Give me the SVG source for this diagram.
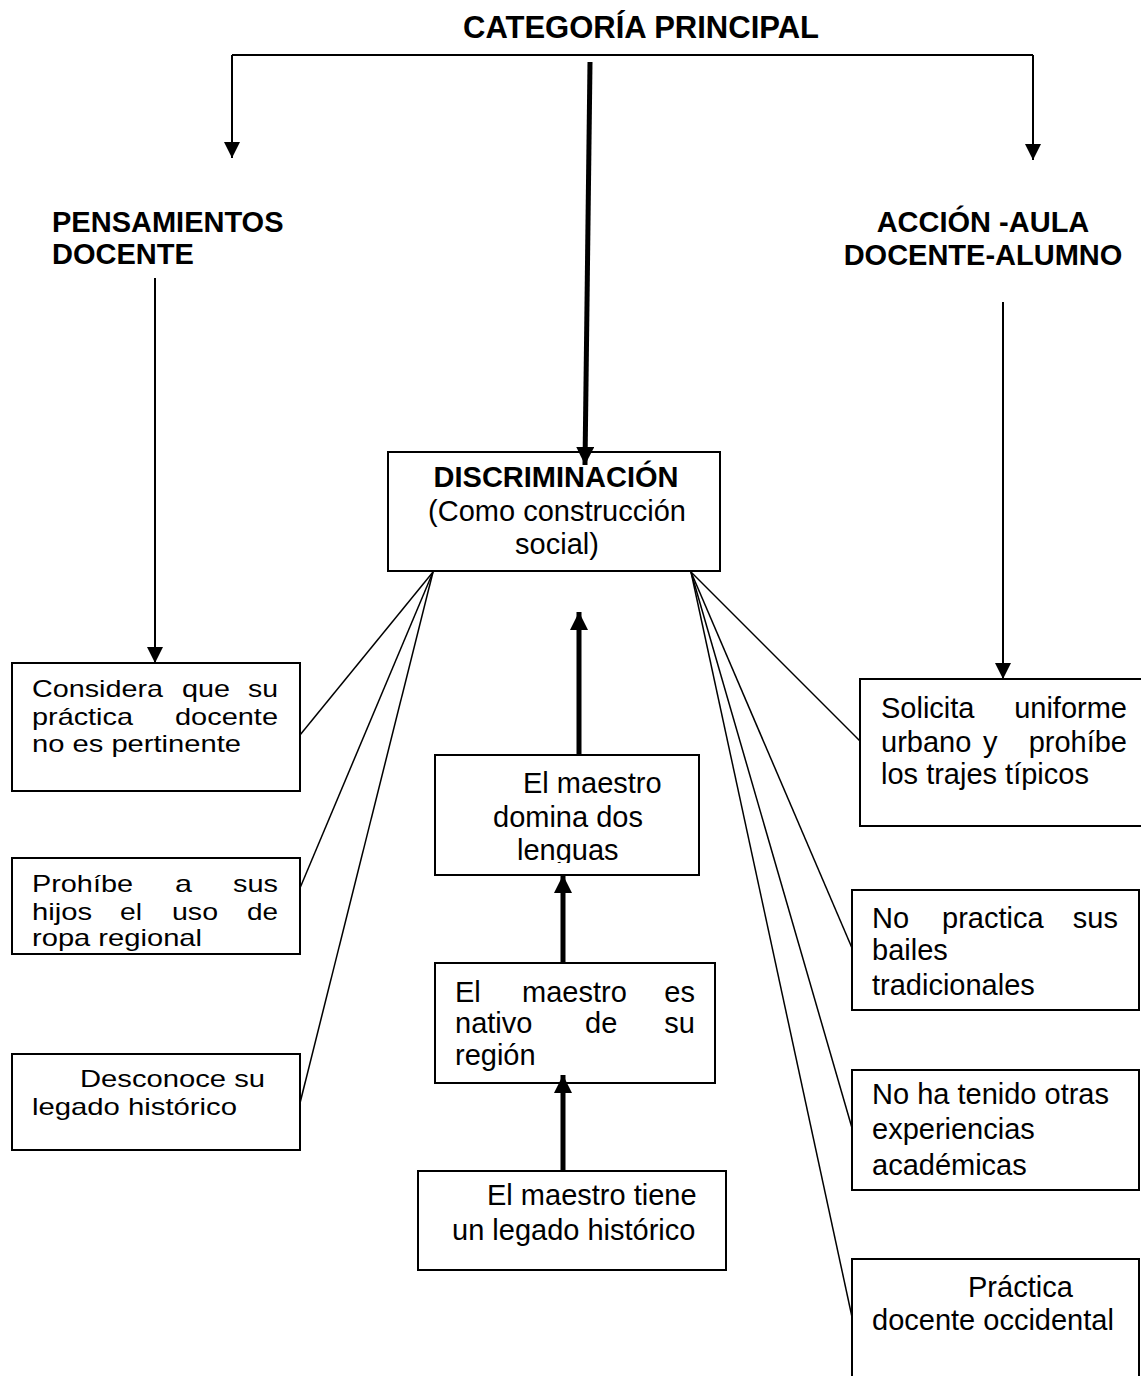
<svg xmlns="http://www.w3.org/2000/svg" width="1141" height="1376" viewBox="0 0 1141 1376">
<style>
  .box{fill:none;stroke:#000;stroke-width:2}
  .t{font-family:"Liberation Sans",Arial,sans-serif;font-size:29px;fill:#000}
  .b{font-family:"Liberation Sans",Arial,sans-serif;font-size:29px;font-weight:bold;fill:#000}
  .s{font-family:"Liberation Sans",Arial,sans-serif;font-size:24px;fill:#000}
  .thin{stroke:#000;stroke-width:2;fill:none}
  .fan{stroke:#000;stroke-width:1.5;fill:none}
  .thick{stroke:#000;stroke-width:5;fill:none}
</style>
<defs>
  <marker id="ah" markerUnits="userSpaceOnUse" markerWidth="16" markerHeight="18" refX="16" refY="8" orient="auto" viewBox="0 0 16 16">
    <path d="M0,0 L16,8 L0,16 Z" fill="#000"/>
  </marker>
  <marker id="ahk" markerUnits="userSpaceOnUse" markerWidth="18" markerHeight="18" refX="18" refY="9" orient="auto" viewBox="0 0 18 18">
    <path d="M0,0 L18,9 L0,18 Z" fill="#000"/>
  </marker>
  <clipPath id="c1"><rect x="436" y="756" width="262" height="107"/></clipPath>
  <clipPath id="c2"><rect x="436" y="964" width="278" height="107"/></clipPath>
</defs>
<rect width="1141" height="1376" fill="#fff"/>

<g id="title">
  <text class="b" x="641" y="38" text-anchor="middle" style="font-size:31px">CATEGORÍA PRINCIPAL</text>
</g>

<g id="pensamientos">
  <text class="b" x="52" y="232">PENSAMIENTOS</text>
  <text class="b" x="52" y="264">DOCENTE</text>
</g>

<g id="accion">
  <text class="b" x="983" y="232" text-anchor="middle">ACCIÓN -AULA</text>
  <text class="b" x="983" y="265" text-anchor="middle">DOCENTE-ALUMNO</text>
</g>

<g id="discriminacion">
  <rect class="box" x="388" y="452" width="332" height="119"/>
  <text class="b" x="556" y="487" text-anchor="middle">DISCRIMINACIÓN</text>
  <text class="t" x="557" y="521" text-anchor="middle">(Como construcción</text>
  <text class="t" x="557" y="554" text-anchor="middle">social)</text>
</g>

<g id="considera">
  <rect class="box" x="12" y="663" width="288" height="128"/>
  <text class="s" x="32" y="697" textLength="131" lengthAdjust="spacingAndGlyphs">Considera</text>
  <text class="s" x="182" y="697" textLength="48" lengthAdjust="spacingAndGlyphs">que</text>
  <text class="s" x="248" y="697" textLength="30" lengthAdjust="spacingAndGlyphs">su</text>
  <text class="s" x="32" y="725" textLength="101" lengthAdjust="spacingAndGlyphs">práctica</text>
  <text class="s" x="175" y="725" textLength="103" lengthAdjust="spacingAndGlyphs">docente</text>
  <text class="s" x="32" y="752" textLength="209" lengthAdjust="spacingAndGlyphs">no es pertinente</text>
</g>

<g id="prohibe">
  <rect class="box" x="12" y="858" width="288" height="96"/>
  <text class="s" x="32" y="892" textLength="101" lengthAdjust="spacingAndGlyphs">Prohíbe</text>
  <text class="s" x="175" y="892" textLength="17" lengthAdjust="spacingAndGlyphs">a</text>
  <text class="s" x="233" y="892" textLength="45" lengthAdjust="spacingAndGlyphs">sus</text>
  <text class="s" x="32" y="920" textLength="60" lengthAdjust="spacingAndGlyphs">hijos</text>
  <text class="s" x="120" y="920" textLength="22" lengthAdjust="spacingAndGlyphs">el</text>
  <text class="s" x="172" y="920" textLength="46" lengthAdjust="spacingAndGlyphs">uso</text>
  <text class="s" x="247" y="920" textLength="31" lengthAdjust="spacingAndGlyphs">de</text>
  <text class="s" x="32" y="946" textLength="170" lengthAdjust="spacingAndGlyphs">ropa regional</text>
</g>

<g id="desconoce">
  <rect class="box" x="12" y="1054" width="288" height="96"/>
  <text class="s" x="80" y="1087" textLength="185" lengthAdjust="spacingAndGlyphs">Desconoce su</text>
  <text class="s" x="32" y="1115" textLength="205" lengthAdjust="spacingAndGlyphs">legado histórico</text>
</g>

<g id="domina">
  <rect class="box" x="435" y="755" width="264" height="120"/>
  <g clip-path="url(#c1)">
    <text class="t" x="523" y="793">El maestro</text>
    <text class="t" x="493" y="827">domina dos</text>
    <text class="t" x="517" y="860">lenguas</text>
  </g>
</g>

<g id="nativo">
  <rect class="box" x="435" y="963" width="280" height="120"/>
  <g clip-path="url(#c2)">
    <text class="t" x="455" y="1002">El</text>
    <text class="t" x="522" y="1002">maestro</text>
    <text class="t" x="695" y="1002" text-anchor="end">es</text>
    <text class="t" x="455" y="1033">nativo</text>
    <text class="t" x="585" y="1033">de</text>
    <text class="t" x="695" y="1033" text-anchor="end">su</text>
    <text class="t" x="455" y="1065">región</text>
  </g>
</g>

<g id="tiene">
  <rect class="box" x="418" y="1171" width="308" height="99"/>
  <text class="t" x="487" y="1205">El maestro tiene</text>
  <text class="t" x="452" y="1240">un legado histórico</text>
</g>

<g id="solicita">
  <rect class="box" x="860" y="679" width="290" height="147"/>
  <text class="t" x="881" y="718">Solicita</text>
  <text class="t" x="1127" y="718" text-anchor="end">uniforme</text>
  <text class="t" x="881" y="752">urbano</text>
  <text class="t" x="983" y="752">y</text>
  <text class="t" x="1127" y="752" text-anchor="end">prohíbe</text>
  <text class="t" x="881" y="784">los trajes típicos</text>
</g>

<g id="bailes">
  <rect class="box" x="852" y="890" width="287" height="120"/>
  <text class="t" x="872" y="928">No</text>
  <text class="t" x="942" y="928">practica</text>
  <text class="t" x="1118" y="928" text-anchor="end">sus</text>
  <text class="t" x="872" y="960">bailes</text>
  <text class="t" x="872" y="995">tradicionales</text>
</g>

<g id="experiencias">
  <rect class="box" x="852" y="1070" width="287" height="120"/>
  <text class="t" x="872" y="1104">No ha tenido otras</text>
  <text class="t" x="872" y="1139">experiencias</text>
  <text class="t" x="872" y="1175">académicas</text>
</g>

<g id="occidental">
  <rect class="box" x="852" y="1259" width="287" height="130"/>
  <text class="t" x="968" y="1297">Práctica</text>
  <text class="t" x="872" y="1330">docente occidental</text>
</g>

<g id="connectors">
  <polyline class="thin" points="232,55 1033,55"/>
  <line class="thin" x1="232" y1="55" x2="232" y2="158" marker-end="url(#ah)"/>
  <line class="thin" x1="1033" y1="55" x2="1033" y2="160" marker-end="url(#ah)"/>
  <line class="thick" x1="590" y1="62" x2="585" y2="465" marker-end="url(#ahk)"/>
  <line class="thin" x1="155" y1="278" x2="155" y2="663" marker-end="url(#ah)"/>
  <line class="thin" x1="1003" y1="302" x2="1003" y2="679" marker-end="url(#ah)"/>
  <line class="fan" x1="433" y1="572" x2="300" y2="735"/>
  <line class="fan" x1="433" y1="572" x2="300" y2="888"/>
  <line class="fan" x1="433" y1="572" x2="300" y2="1103"/>
  <line class="fan" x1="691" y1="572" x2="860" y2="741"/>
  <line class="fan" x1="691" y1="572" x2="852" y2="948"/>
  <line class="fan" x1="691" y1="572" x2="852" y2="1128"/>
  <line class="fan" x1="691" y1="572" x2="852" y2="1317"/>
  <line class="thick" x1="579" y1="755" x2="579" y2="612" marker-end="url(#ahk)"/>
  <line class="thick" x1="563" y1="963" x2="563" y2="875" marker-end="url(#ahk)"/>
  <line class="thick" x1="563" y1="1171" x2="563" y2="1075" marker-end="url(#ahk)"/>
</g>
</svg>
